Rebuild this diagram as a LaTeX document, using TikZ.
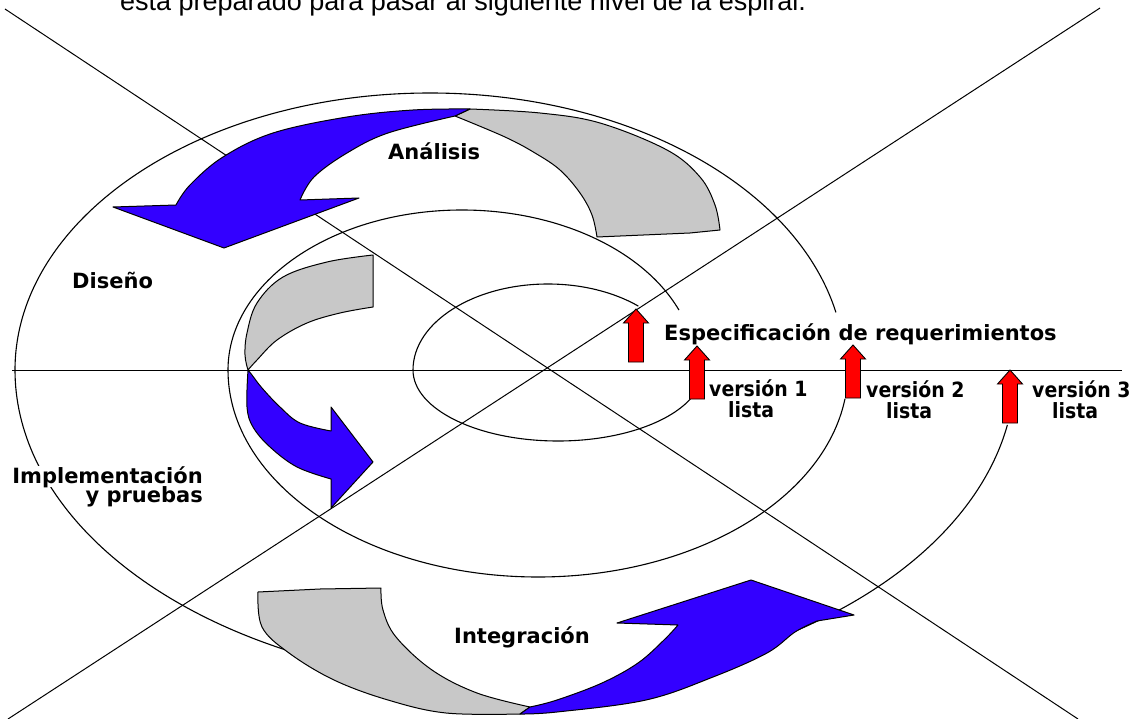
\documentclass[tikz,border=0pt]{standalone}
\usepackage{fontspec}
\setmainfont{DejaVu Sans}
\newfontfamily\arialf{Liberation Sans}
\definecolor{cblue}{RGB}{51,0,255}
\definecolor{cgray}{RGB}{200,200,200}
\definecolor{cred}{RGB}{255,0,0}
\tikzset{
  uparr/.pic={\filldraw[fill=cred,draw=black,line width=0.9pt,line join=miter]
     (0,0) -- (12.5,14) -- (7.5,14) -- (7.5,53) -- (-7.5,53) -- (-7.5,14) -- (-12.5,14) -- cycle;}
}
\begin{document}
\begin{tikzpicture}[x=1pt,y=-1pt,
  spiral/.style={line width=1.1pt},
  axisline/.style={line width=1pt},
  bluebd/.style={fill=cblue,draw=black,line width=1pt,line join=round},
  graybd/.style={fill=cgray,draw=black,line width=1pt,line join=round},
  lbl/.style={inner sep=0pt,fill=white,font=\fontsize{21}{21}\selectfont\bfseries},
  vlbl/.style={inner sep=0pt,font=\fontsize{21}{21}\selectfont\bfseries}
]
\clip (0,0) rectangle (1140,719);
\fill[white] (0,0) rectangle (1140,719);

% top (cut) caption
\node[inner sep=0pt,anchor=base west,font=\arialf\fontsize{27}{27}\selectfont] (caption) at (120,11)
  {está preparado para pasar al siguiente nivel de la espiral.};

% spiral of half ellipses
\draw[spiral] (413,370) arc[start angle=180,end angle=48,x radius=135pt,y radius=86pt];
\draw[spiral] (413,370) arc[start angle=180,end angle=336,x radius=145pt,y radius=71pt];
\draw[spiral] (228,370) arc[start angle=180,end angle=22,x radius=234pt,y radius=160pt];
\draw[spiral] (228,370) arc[start angle=180,end angle=352,x radius=310pt,y radius=207pt];
\draw[spiral] (15,370) arc[start angle=180,end angle=12,x radius=415pt,y radius=277pt];
\draw[spiral] (15,370) arc[start angle=180,end angle=245,x radius=500pt,y radius=315pt];
\draw[spiral] (765,643) arc[start angle=300,end angle=350,x radius=500pt,y radius=315pt];

% axes
\coordinate (hl) at (12,370);
\coordinate (hr) at (1122,370);
\coordinate (d1a) at (5,9);
\coordinate (d1b) at (1078,719);
\coordinate (d2a) at (1100,8);
\coordinate (d2b) at (8,719);
\draw[axisline] (hl) -- (hr);
\draw[axisline] (d1a) -- (d1b);
\draw[axisline] (d2a) -- (d2b);

% top bands
\filldraw[graybd] (470,109) -- plot[smooth,tension=0.6] coordinates {(470,109) (540,113) (600,123) (667,150) (700,177) (715,205) (720,230)}
  -- (690,233) -- (597,237)
  -- plot[smooth,tension=0.6] coordinates {(597,237) (592,215) (580,193) (560,170) (535,153) (505,137) (455,116)} -- cycle;
\filldraw[bluebd] (470,109) -- plot[smooth,tension=0.6] coordinates {(470,109) (413,110) (347,117) (273,133) (223,157) (190,185) (176,205)}
  -- (113,207) -- (224,248) -- (359,198) -- (300,200)
  -- plot[smooth,tension=0.6] coordinates {(300,200) (314,177) (347,153) (388,133) (455,116)} -- cycle;

% left bands
\filldraw[graybd] (373,255) -- (373,307)
  -- plot[smooth,tension=0.6] coordinates {(373,307) (340,313) (307,323) (277,340) (257,360) (248,370)}
  -- plot[smooth,tension=0.6] coordinates {(248,370) (245,355) (247,333) (257,303) (283,277) (327,262) (373,255)} -- cycle;
\filldraw[bluebd] (248,370)
  -- plot[smooth,tension=0.6] coordinates {(248,370) (247,407) (253,427) (270,447) (297,467) (331,479)}
  -- (331,508) -- (373,462) -- (331,407) -- (331,431)
  -- plot[smooth,tension=0.6] coordinates {(331,431) (300,423) (280,407) (262,388) (252,375) (248,370)} -- cycle;

% bottom bands
\filldraw[graybd] (258,592) -- (320,589) -- (381,588)
  -- plot[smooth,tension=0.6] coordinates {(381,588) (383,610) (396,637) (432,670) (477,693) (530,707)}
  -- (520,714)
  -- plot[smooth,tension=0.6] coordinates {(520,714) (446,713) (388,700) (334,680) (289,653) (262,627) (258,592)} -- cycle;
\filldraw[bluebd] (520,714)
  -- plot[smooth,tension=0.6] coordinates {(520,714) (557,712) (646,700) (713,677) (767,653) (795,632) (817,621)}
  -- (854,615) -- (751,580) -- (617,623) -- (678,625)
  -- plot[smooth,tension=0.6] coordinates {(678,625) (664,640) (638,663) (602,683) (557,700) (530,707)} -- cycle;

% red arrows
\pic at (636,309) {uparr};
\pic at (697,346) {uparr};
\pic at (853,345) {uparr};
\pic at (1010,370) {uparr};

% labels
\node[lbl,anchor=base west] (analisis) at (388,160) {Análisis};
\node[lbl,anchor=base west] (diseno) at (72,288) {Diseño};
\node[lbl,anchor=base east] (impl) at (203,483) {Implementación};
\node[lbl,anchor=base east] (pruebas) at (203,502) {y pruebas};
\node[lbl,anchor=base west] (integ) at (454,643) {Integración};
\node[lbl,anchor=base west] (espec) at (664,340) {Especificación de requerimientos};
\node[vlbl,anchor=base west] (v1) at (709,396) {\scalebox{0.9}[1]{versión 1}};
\node[vlbl,anchor=base west] (l1) at (728,417) {\scalebox{0.9}[1]{lista}};
\node[vlbl,anchor=base west] (v2) at (866,397) {\scalebox{0.9}[1]{versión 2}};
\node[vlbl,anchor=base west] (l2) at (886,418) {\scalebox{0.9}[1]{lista}};
\node[vlbl,anchor=base west] (v3) at (1032,397) {\scalebox{0.9}[1]{versión 3}};
\node[vlbl,anchor=base west] (l3) at (1052,418) {\scalebox{0.9}[1]{lista}};
\end{tikzpicture}
\end{document}
